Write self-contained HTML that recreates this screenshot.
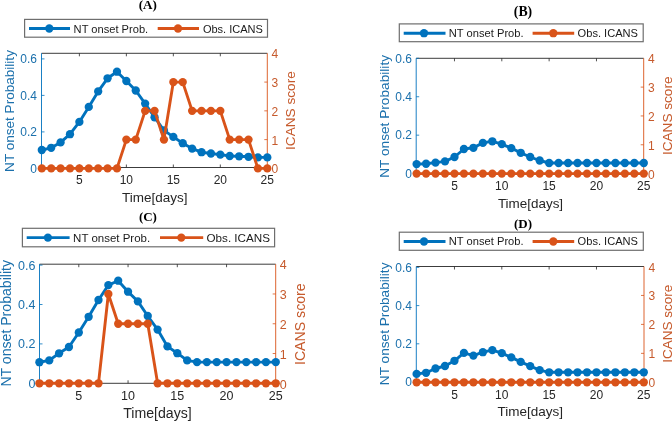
<!DOCTYPE html>
<html><head><meta charset="utf-8"><title>NT onset probability vs ICANS</title>
<style>
html,body{margin:0;padding:0;background:#fff;}
body{width:672px;height:422px;overflow:hidden;}
svg{display:block;will-change:transform;filter:blur(0.3px);font-family:"Liberation Sans",sans-serif;}
</style></head>
<body>
<svg width="672" height="422" viewBox="0 0 672 422">
<rect width="672" height="422" fill="#fff"/>
<text x="147.8" y="9.2" text-anchor="middle" font-family="Liberation Serif" font-weight="bold" font-size="13.1" fill="#000">(A)</text>
<rect x="24.6" y="19.4" width="242.9" height="17.8" fill="#fff" stroke="#6e6e6e" stroke-width="1.2"/>
<line x1="29" y1="28.5" x2="70" y2="28.5" stroke="#0072BD" stroke-width="2.9"/>
<circle cx="49.3" cy="28.5" r="4.15" fill="#0072BD"/>
<text x="73.6" y="32.7" font-size="11" fill="#1a1a1a" textLength="74.6" lengthAdjust="spacingAndGlyphs">NT onset Prob.</text>
<line x1="157.7" y1="28.5" x2="199" y2="28.5" stroke="#D95319" stroke-width="2.9"/>
<circle cx="178" cy="28.5" r="4.15" fill="#D95319"/>
<text x="202.9" y="32.7" font-size="11" fill="#1a1a1a" textLength="60" lengthAdjust="spacingAndGlyphs">Obs. ICANS</text>
<line x1="41.5" y1="53.3" x2="267.3" y2="53.3" stroke="#262626" stroke-width="0.9"/>
<line x1="41.5" y1="167.5" x2="267.3" y2="167.5" stroke="#262626" stroke-width="0.9"/>
<line x1="41.5" y1="53.3" x2="41.5" y2="168.4" stroke="#0072BD" stroke-width="0.9"/>
<line x1="267.3" y1="53.3" x2="267.3" y2="168.4" stroke="#D95319" stroke-width="0.9"/>
<line x1="79.38" y1="167.5" x2="79.38" y2="164.5" stroke="#262626" stroke-width="0.8"/>
<line x1="79.38" y1="53.3" x2="79.38" y2="56.3" stroke="#262626" stroke-width="0.8"/>
<text x="79.38" y="184" text-anchor="middle" font-size="12" fill="#262626">5</text>
<line x1="126.36" y1="167.5" x2="126.36" y2="164.5" stroke="#262626" stroke-width="0.8"/>
<line x1="126.36" y1="53.3" x2="126.36" y2="56.3" stroke="#262626" stroke-width="0.8"/>
<text x="126.36" y="184" text-anchor="middle" font-size="12" fill="#262626">10</text>
<line x1="173.34" y1="167.5" x2="173.34" y2="164.5" stroke="#262626" stroke-width="0.8"/>
<line x1="173.34" y1="53.3" x2="173.34" y2="56.3" stroke="#262626" stroke-width="0.8"/>
<text x="173.34" y="184" text-anchor="middle" font-size="12" fill="#262626">15</text>
<line x1="220.32" y1="167.5" x2="220.32" y2="164.5" stroke="#262626" stroke-width="0.8"/>
<line x1="220.32" y1="53.3" x2="220.32" y2="56.3" stroke="#262626" stroke-width="0.8"/>
<text x="220.32" y="184" text-anchor="middle" font-size="12" fill="#262626">20</text>
<text x="267.3" y="184" text-anchor="middle" font-size="12" fill="#262626">25</text>
<text x="37" y="172.72" text-anchor="end" font-size="12" fill="#1B70AC">0</text>
<line x1="41.5" y1="131.9" x2="44.5" y2="131.9" stroke="#0072BD" stroke-width="0.8"/>
<text x="37" y="136.22" text-anchor="end" font-size="12" fill="#1B70AC">0.2</text>
<line x1="41.5" y1="95.4" x2="44.5" y2="95.4" stroke="#0072BD" stroke-width="0.8"/>
<text x="37" y="99.72" text-anchor="end" font-size="12" fill="#1B70AC">0.4</text>
<line x1="41.5" y1="58.9" x2="44.5" y2="58.9" stroke="#0072BD" stroke-width="0.8"/>
<text x="37" y="63.22" text-anchor="end" font-size="12" fill="#1B70AC">0.6</text>
<text x="271.5" y="173.42" font-size="12" fill="#C65A2C">0</text>
<line x1="267.3" y1="139.62" x2="264.3" y2="139.62" stroke="#D95319" stroke-width="0.8"/>
<text x="271.5" y="144.64" font-size="12" fill="#C65A2C">1</text>
<line x1="267.3" y1="110.85" x2="264.3" y2="110.85" stroke="#D95319" stroke-width="0.8"/>
<text x="271.5" y="115.87" font-size="12" fill="#C65A2C">2</text>
<line x1="267.3" y1="82.08" x2="264.3" y2="82.08" stroke="#D95319" stroke-width="0.8"/>
<text x="271.5" y="87.1" font-size="12" fill="#C65A2C">3</text>
<text x="271.5" y="58.32" font-size="12" fill="#C65A2C">4</text>
<text x="154.7" y="201.7" text-anchor="middle" font-size="13.3" fill="#262626" textLength="65.4" lengthAdjust="spacingAndGlyphs">Time[days]</text>
<text transform="translate(13.9,111) rotate(-90)" text-anchor="middle" font-size="13.4" fill="#1B70AC" textLength="121.8" lengthAdjust="spacingAndGlyphs">NT onset Probability</text>
<text transform="translate(295.4,110.6) rotate(-90)" text-anchor="middle" font-size="13.4" fill="#C65A2C" textLength="78.8" lengthAdjust="spacingAndGlyphs">ICANS score</text>
<polyline points="41.8,150 51.2,147.8 60.59,142.4 69.99,134.2 79.38,121.9 88.78,106.9 98.17,91.4 107.57,78.3 116.97,71.7 126.36,81 135.76,90.5 145.15,103.6 154.55,117.3 163.95,130.4 173.34,136.9 182.74,143.2 192.13,148.6 201.53,152.2 210.93,153.5 220.32,154.6 229.72,156 239.11,156.3 248.51,156.8 257.9,157.4 267.3,157.4" fill="none" stroke="#0072BD" stroke-width="2.9" stroke-linejoin="round"/>
<circle cx="41.8" cy="150" r="4.15" fill="#0072BD"/>
<circle cx="51.2" cy="147.8" r="4.15" fill="#0072BD"/>
<circle cx="60.59" cy="142.4" r="4.15" fill="#0072BD"/>
<circle cx="69.99" cy="134.2" r="4.15" fill="#0072BD"/>
<circle cx="79.38" cy="121.9" r="4.15" fill="#0072BD"/>
<circle cx="88.78" cy="106.9" r="4.15" fill="#0072BD"/>
<circle cx="98.17" cy="91.4" r="4.15" fill="#0072BD"/>
<circle cx="107.57" cy="78.3" r="4.15" fill="#0072BD"/>
<circle cx="116.97" cy="71.7" r="4.15" fill="#0072BD"/>
<circle cx="126.36" cy="81" r="4.15" fill="#0072BD"/>
<circle cx="135.76" cy="90.5" r="4.15" fill="#0072BD"/>
<circle cx="145.15" cy="103.6" r="4.15" fill="#0072BD"/>
<circle cx="154.55" cy="117.3" r="4.15" fill="#0072BD"/>
<circle cx="163.95" cy="130.4" r="4.15" fill="#0072BD"/>
<circle cx="173.34" cy="136.9" r="4.15" fill="#0072BD"/>
<circle cx="182.74" cy="143.2" r="4.15" fill="#0072BD"/>
<circle cx="192.13" cy="148.6" r="4.15" fill="#0072BD"/>
<circle cx="201.53" cy="152.2" r="4.15" fill="#0072BD"/>
<circle cx="210.93" cy="153.5" r="4.15" fill="#0072BD"/>
<circle cx="220.32" cy="154.6" r="4.15" fill="#0072BD"/>
<circle cx="229.72" cy="156" r="4.15" fill="#0072BD"/>
<circle cx="239.11" cy="156.3" r="4.15" fill="#0072BD"/>
<circle cx="248.51" cy="156.8" r="4.15" fill="#0072BD"/>
<circle cx="257.9" cy="157.4" r="4.15" fill="#0072BD"/>
<circle cx="267.3" cy="157.4" r="4.15" fill="#0072BD"/>
<polyline points="41.8,168.4 51.2,168.4 60.59,168.4 69.99,168.4 79.38,168.4 88.78,168.4 98.17,168.4 107.57,168.4 116.97,168.4 126.36,139.62 135.76,139.62 145.15,110.85 154.55,110.85 163.95,139.62 173.34,82.08 182.74,82.08 192.13,110.85 201.53,110.85 210.93,110.85 220.32,110.85 229.72,139.62 239.11,139.62 248.51,139.62 257.9,168.4 267.3,168.4" fill="none" stroke="#D95319" stroke-width="2.9" stroke-linejoin="round"/>
<circle cx="41.8" cy="168.4" r="4.15" fill="#D95319"/>
<circle cx="51.2" cy="168.4" r="4.15" fill="#D95319"/>
<circle cx="60.59" cy="168.4" r="4.15" fill="#D95319"/>
<circle cx="69.99" cy="168.4" r="4.15" fill="#D95319"/>
<circle cx="79.38" cy="168.4" r="4.15" fill="#D95319"/>
<circle cx="88.78" cy="168.4" r="4.15" fill="#D95319"/>
<circle cx="98.17" cy="168.4" r="4.15" fill="#D95319"/>
<circle cx="107.57" cy="168.4" r="4.15" fill="#D95319"/>
<circle cx="116.97" cy="168.4" r="4.15" fill="#D95319"/>
<circle cx="126.36" cy="139.62" r="4.15" fill="#D95319"/>
<circle cx="135.76" cy="139.62" r="4.15" fill="#D95319"/>
<circle cx="145.15" cy="110.85" r="4.15" fill="#D95319"/>
<circle cx="154.55" cy="110.85" r="4.15" fill="#D95319"/>
<circle cx="163.95" cy="139.62" r="4.15" fill="#D95319"/>
<circle cx="173.34" cy="82.08" r="4.15" fill="#D95319"/>
<circle cx="182.74" cy="82.08" r="4.15" fill="#D95319"/>
<circle cx="192.13" cy="110.85" r="4.15" fill="#D95319"/>
<circle cx="201.53" cy="110.85" r="4.15" fill="#D95319"/>
<circle cx="210.93" cy="110.85" r="4.15" fill="#D95319"/>
<circle cx="220.32" cy="110.85" r="4.15" fill="#D95319"/>
<circle cx="229.72" cy="139.62" r="4.15" fill="#D95319"/>
<circle cx="239.11" cy="139.62" r="4.15" fill="#D95319"/>
<circle cx="248.51" cy="139.62" r="4.15" fill="#D95319"/>
<circle cx="257.9" cy="168.4" r="4.15" fill="#D95319"/>
<circle cx="267.3" cy="168.4" r="4.15" fill="#D95319"/>
<text x="523" y="16.4" text-anchor="middle" font-family="Liberation Serif" font-weight="bold" font-size="13.8" fill="#000">(B)</text>
<rect x="399.3" y="23.9" width="243.9" height="17.8" fill="#fff" stroke="#6e6e6e" stroke-width="1.2"/>
<line x1="403.7" y1="33.2" x2="445.5" y2="33.2" stroke="#0072BD" stroke-width="2.9"/>
<circle cx="424" cy="33.2" r="4.15" fill="#0072BD"/>
<text x="448.8" y="37.1" font-size="11.1" fill="#1a1a1a" textLength="74.8" lengthAdjust="spacingAndGlyphs">NT onset Prob.</text>
<line x1="532.6" y1="33.2" x2="574.2" y2="33.2" stroke="#D95319" stroke-width="2.9"/>
<circle cx="553.3" cy="33.2" r="4.15" fill="#D95319"/>
<text x="577.6" y="37.1" font-size="11.1" fill="#1a1a1a" textLength="60.4" lengthAdjust="spacingAndGlyphs">Obs. ICANS</text>
<line x1="416.2" y1="58.3" x2="643.7" y2="58.3" stroke="#262626" stroke-width="0.9"/>
<line x1="416.2" y1="173.6" x2="643.7" y2="173.6" stroke="#262626" stroke-width="0.9"/>
<line x1="416.2" y1="58.3" x2="416.2" y2="173.6" stroke="#0072BD" stroke-width="0.9"/>
<line x1="643.7" y1="58.3" x2="643.7" y2="173.6" stroke="#D95319" stroke-width="0.9"/>
<line x1="454.47" y1="173.6" x2="454.47" y2="170.6" stroke="#262626" stroke-width="0.8"/>
<line x1="454.47" y1="58.3" x2="454.47" y2="61.3" stroke="#262626" stroke-width="0.8"/>
<text x="454.47" y="189.9" text-anchor="middle" font-size="12" fill="#262626">5</text>
<line x1="501.8" y1="173.6" x2="501.8" y2="170.6" stroke="#262626" stroke-width="0.8"/>
<line x1="501.8" y1="58.3" x2="501.8" y2="61.3" stroke="#262626" stroke-width="0.8"/>
<text x="501.8" y="189.9" text-anchor="middle" font-size="12" fill="#262626">10</text>
<line x1="549.13" y1="173.6" x2="549.13" y2="170.6" stroke="#262626" stroke-width="0.8"/>
<line x1="549.13" y1="58.3" x2="549.13" y2="61.3" stroke="#262626" stroke-width="0.8"/>
<text x="549.13" y="189.9" text-anchor="middle" font-size="12" fill="#262626">15</text>
<line x1="596.47" y1="173.6" x2="596.47" y2="170.6" stroke="#262626" stroke-width="0.8"/>
<line x1="596.47" y1="58.3" x2="596.47" y2="61.3" stroke="#262626" stroke-width="0.8"/>
<text x="596.47" y="189.9" text-anchor="middle" font-size="12" fill="#262626">20</text>
<text x="643.8" y="189.9" text-anchor="middle" font-size="12" fill="#262626">25</text>
<text x="412" y="177.92" text-anchor="end" font-size="12" fill="#1B70AC">0</text>
<line x1="416.2" y1="135.17" x2="419.2" y2="135.17" stroke="#0072BD" stroke-width="0.8"/>
<text x="412" y="139.49" text-anchor="end" font-size="12" fill="#1B70AC">0.2</text>
<line x1="416.2" y1="96.74" x2="419.2" y2="96.74" stroke="#0072BD" stroke-width="0.8"/>
<text x="412" y="101.06" text-anchor="end" font-size="12" fill="#1B70AC">0.4</text>
<line x1="416.2" y1="58.31" x2="419.2" y2="58.31" stroke="#0072BD" stroke-width="0.8"/>
<text x="412" y="62.63" text-anchor="end" font-size="12" fill="#1B70AC">0.6</text>
<text x="648" y="178.62" font-size="12" fill="#C65A2C">0</text>
<line x1="643.7" y1="144.78" x2="640.7" y2="144.78" stroke="#D95319" stroke-width="0.8"/>
<text x="648" y="149.79" font-size="12" fill="#C65A2C">1</text>
<line x1="643.7" y1="115.95" x2="640.7" y2="115.95" stroke="#D95319" stroke-width="0.8"/>
<text x="648" y="120.97" font-size="12" fill="#C65A2C">2</text>
<line x1="643.7" y1="87.12" x2="640.7" y2="87.12" stroke="#D95319" stroke-width="0.8"/>
<text x="648" y="92.14" font-size="12" fill="#C65A2C">3</text>
<text x="648" y="63.32" font-size="12" fill="#C65A2C">4</text>
<text x="530.5" y="207.6" text-anchor="middle" font-size="13.4" fill="#262626" textLength="65.2" lengthAdjust="spacingAndGlyphs">Time[days]</text>
<text transform="translate(389,116.4) rotate(-90)" text-anchor="middle" font-size="13.5" fill="#1B70AC" textLength="122.8" lengthAdjust="spacingAndGlyphs">NT onset Probability</text>
<text transform="translate(672,115.8) rotate(-90)" text-anchor="middle" font-size="13.5" fill="#C65A2C" textLength="78.6" lengthAdjust="spacingAndGlyphs">ICANS score</text>
<polyline points="416.6,164.1 426.07,163.75 435.53,162.6 445,161.4 454.47,157 463.93,149 473.4,147.8 482.87,142.9 492.33,141.3 501.8,144.1 511.27,148.1 520.73,152.8 530.2,157 539.67,160.5 549.13,163 558.6,163 568.07,163 577.53,163 587,163 596.47,163 605.93,163 615.4,163 624.87,163 634.33,163 643.8,163" fill="none" stroke="#0072BD" stroke-width="2.9" stroke-linejoin="round"/>
<circle cx="416.6" cy="164.1" r="4.15" fill="#0072BD"/>
<circle cx="426.07" cy="163.75" r="4.15" fill="#0072BD"/>
<circle cx="435.53" cy="162.6" r="4.15" fill="#0072BD"/>
<circle cx="445" cy="161.4" r="4.15" fill="#0072BD"/>
<circle cx="454.47" cy="157" r="4.15" fill="#0072BD"/>
<circle cx="463.93" cy="149" r="4.15" fill="#0072BD"/>
<circle cx="473.4" cy="147.8" r="4.15" fill="#0072BD"/>
<circle cx="482.87" cy="142.9" r="4.15" fill="#0072BD"/>
<circle cx="492.33" cy="141.3" r="4.15" fill="#0072BD"/>
<circle cx="501.8" cy="144.1" r="4.15" fill="#0072BD"/>
<circle cx="511.27" cy="148.1" r="4.15" fill="#0072BD"/>
<circle cx="520.73" cy="152.8" r="4.15" fill="#0072BD"/>
<circle cx="530.2" cy="157" r="4.15" fill="#0072BD"/>
<circle cx="539.67" cy="160.5" r="4.15" fill="#0072BD"/>
<circle cx="549.13" cy="163" r="4.15" fill="#0072BD"/>
<circle cx="558.6" cy="163" r="4.15" fill="#0072BD"/>
<circle cx="568.07" cy="163" r="4.15" fill="#0072BD"/>
<circle cx="577.53" cy="163" r="4.15" fill="#0072BD"/>
<circle cx="587" cy="163" r="4.15" fill="#0072BD"/>
<circle cx="596.47" cy="163" r="4.15" fill="#0072BD"/>
<circle cx="605.93" cy="163" r="4.15" fill="#0072BD"/>
<circle cx="615.4" cy="163" r="4.15" fill="#0072BD"/>
<circle cx="624.87" cy="163" r="4.15" fill="#0072BD"/>
<circle cx="634.33" cy="163" r="4.15" fill="#0072BD"/>
<circle cx="643.8" cy="163" r="4.15" fill="#0072BD"/>
<polyline points="416.6,173.6 426.07,173.6 435.53,173.6 445,173.6 454.47,173.6 463.93,173.6 473.4,173.6 482.87,173.6 492.33,173.6 501.8,173.6 511.27,173.6 520.73,173.6 530.2,173.6 539.67,173.6 549.13,173.6 558.6,173.6 568.07,173.6 577.53,173.6 587,173.6 596.47,173.6 605.93,173.6 615.4,173.6 624.87,173.6 634.33,173.6 643.8,173.6" fill="none" stroke="#D95319" stroke-width="2.9" stroke-linejoin="round"/>
<circle cx="416.6" cy="173.6" r="4.15" fill="#D95319"/>
<circle cx="426.07" cy="173.6" r="4.15" fill="#D95319"/>
<circle cx="435.53" cy="173.6" r="4.15" fill="#D95319"/>
<circle cx="445" cy="173.6" r="4.15" fill="#D95319"/>
<circle cx="454.47" cy="173.6" r="4.15" fill="#D95319"/>
<circle cx="463.93" cy="173.6" r="4.15" fill="#D95319"/>
<circle cx="473.4" cy="173.6" r="4.15" fill="#D95319"/>
<circle cx="482.87" cy="173.6" r="4.15" fill="#D95319"/>
<circle cx="492.33" cy="173.6" r="4.15" fill="#D95319"/>
<circle cx="501.8" cy="173.6" r="4.15" fill="#D95319"/>
<circle cx="511.27" cy="173.6" r="4.15" fill="#D95319"/>
<circle cx="520.73" cy="173.6" r="4.15" fill="#D95319"/>
<circle cx="530.2" cy="173.6" r="4.15" fill="#D95319"/>
<circle cx="539.67" cy="173.6" r="4.15" fill="#D95319"/>
<circle cx="549.13" cy="173.6" r="4.15" fill="#D95319"/>
<circle cx="558.6" cy="173.6" r="4.15" fill="#D95319"/>
<circle cx="568.07" cy="173.6" r="4.15" fill="#D95319"/>
<circle cx="577.53" cy="173.6" r="4.15" fill="#D95319"/>
<circle cx="587" cy="173.6" r="4.15" fill="#D95319"/>
<circle cx="596.47" cy="173.6" r="4.15" fill="#D95319"/>
<circle cx="605.93" cy="173.6" r="4.15" fill="#D95319"/>
<circle cx="615.4" cy="173.6" r="4.15" fill="#D95319"/>
<circle cx="624.87" cy="173.6" r="4.15" fill="#D95319"/>
<circle cx="634.33" cy="173.6" r="4.15" fill="#D95319"/>
<circle cx="643.8" cy="173.6" r="4.15" fill="#D95319"/>
<text x="147.9" y="221.4" text-anchor="middle" font-family="Liberation Serif" font-weight="bold" font-size="13" fill="#000">(C)</text>
<rect x="22.4" y="228.3" width="252.2" height="18.5" fill="#fff" stroke="#6e6e6e" stroke-width="1.2"/>
<line x1="26.7" y1="237.6" x2="69.6" y2="237.6" stroke="#0072BD" stroke-width="2.9"/>
<circle cx="47.9" cy="237.6" r="4.15" fill="#0072BD"/>
<text x="73.1" y="242" font-size="11.5" fill="#1a1a1a" textLength="77" lengthAdjust="spacingAndGlyphs">NT onset Prob.</text>
<line x1="160" y1="237.6" x2="203.2" y2="237.6" stroke="#D95319" stroke-width="2.9"/>
<circle cx="181.3" cy="237.6" r="4.15" fill="#D95319"/>
<text x="206.5" y="242" font-size="11.5" fill="#1a1a1a" textLength="63.5" lengthAdjust="spacingAndGlyphs">Obs. ICANS</text>
<line x1="39.5" y1="264.2" x2="275.7" y2="264.2" stroke="#262626" stroke-width="0.9"/>
<line x1="39.5" y1="383.3" x2="275.7" y2="383.3" stroke="#262626" stroke-width="0.9"/>
<line x1="39.5" y1="264.2" x2="39.5" y2="383.3" stroke="#0072BD" stroke-width="0.9"/>
<line x1="275.7" y1="264.2" x2="275.7" y2="383.3" stroke="#D95319" stroke-width="0.9"/>
<line x1="78.8" y1="383.3" x2="78.8" y2="380.3" stroke="#262626" stroke-width="0.8"/>
<line x1="78.8" y1="264.2" x2="78.8" y2="267.2" stroke="#262626" stroke-width="0.8"/>
<text x="78.8" y="399.6" text-anchor="middle" font-size="12.5" fill="#262626">5</text>
<line x1="128.05" y1="383.3" x2="128.05" y2="380.3" stroke="#262626" stroke-width="0.8"/>
<line x1="128.05" y1="264.2" x2="128.05" y2="267.2" stroke="#262626" stroke-width="0.8"/>
<text x="128.05" y="399.6" text-anchor="middle" font-size="12.5" fill="#262626">10</text>
<line x1="177.3" y1="383.3" x2="177.3" y2="380.3" stroke="#262626" stroke-width="0.8"/>
<line x1="177.3" y1="264.2" x2="177.3" y2="267.2" stroke="#262626" stroke-width="0.8"/>
<text x="177.3" y="399.6" text-anchor="middle" font-size="12.5" fill="#262626">15</text>
<line x1="226.55" y1="383.3" x2="226.55" y2="380.3" stroke="#262626" stroke-width="0.8"/>
<line x1="226.55" y1="264.2" x2="226.55" y2="267.2" stroke="#262626" stroke-width="0.8"/>
<text x="226.55" y="399.6" text-anchor="middle" font-size="12.5" fill="#262626">20</text>
<text x="275.8" y="399.6" text-anchor="middle" font-size="12.5" fill="#262626">25</text>
<text x="35.5" y="387.8" text-anchor="end" font-size="12.5" fill="#1B70AC">0</text>
<line x1="39.5" y1="343.9" x2="42.5" y2="343.9" stroke="#0072BD" stroke-width="0.8"/>
<text x="35.5" y="348.4" text-anchor="end" font-size="12.5" fill="#1B70AC">0.2</text>
<line x1="39.5" y1="304.5" x2="42.5" y2="304.5" stroke="#0072BD" stroke-width="0.8"/>
<text x="35.5" y="309" text-anchor="end" font-size="12.5" fill="#1B70AC">0.4</text>
<line x1="39.5" y1="265.1" x2="42.5" y2="265.1" stroke="#0072BD" stroke-width="0.8"/>
<text x="35.5" y="269.6" text-anchor="end" font-size="12.5" fill="#1B70AC">0.6</text>
<text x="279.7" y="388.5" font-size="12.5" fill="#C65A2C">0</text>
<line x1="275.7" y1="353.52" x2="272.7" y2="353.52" stroke="#D95319" stroke-width="0.8"/>
<text x="279.7" y="358.72" font-size="12.5" fill="#C65A2C">1</text>
<line x1="275.7" y1="323.75" x2="272.7" y2="323.75" stroke="#D95319" stroke-width="0.8"/>
<text x="279.7" y="328.95" font-size="12.5" fill="#C65A2C">2</text>
<line x1="275.7" y1="293.98" x2="272.7" y2="293.98" stroke="#D95319" stroke-width="0.8"/>
<text x="279.7" y="299.18" font-size="12.5" fill="#C65A2C">3</text>
<text x="279.7" y="269.4" font-size="12.5" fill="#C65A2C">4</text>
<text x="157.5" y="417.8" text-anchor="middle" font-size="14" fill="#262626" textLength="68.6" lengthAdjust="spacingAndGlyphs">Time[days]</text>
<text transform="translate(11.2,323.3) rotate(-90)" text-anchor="middle" font-size="14" fill="#1B70AC" textLength="126.6" lengthAdjust="spacingAndGlyphs">NT onset Probability</text>
<text transform="translate(305,324.2) rotate(-90)" text-anchor="middle" font-size="14" fill="#C65A2C" textLength="81.6" lengthAdjust="spacingAndGlyphs">ICANS score</text>
<polyline points="39.4,362.2 49.25,360.4 59.1,353.3 68.95,347 78.8,332.5 88.65,316.8 98.5,300 108.35,285.1 118.2,280.7 128.05,291.7 137.9,301.4 147.75,316 157.6,329.6 167.45,346.4 177.3,353.2 187.15,360.4 197,362.1 206.85,362.1 216.7,362.1 226.55,362.1 236.4,362.1 246.25,362.1 256.1,362.1 265.95,362.1 275.8,362.1" fill="none" stroke="#0072BD" stroke-width="2.9" stroke-linejoin="round"/>
<circle cx="39.4" cy="362.2" r="4.15" fill="#0072BD"/>
<circle cx="49.25" cy="360.4" r="4.15" fill="#0072BD"/>
<circle cx="59.1" cy="353.3" r="4.15" fill="#0072BD"/>
<circle cx="68.95" cy="347" r="4.15" fill="#0072BD"/>
<circle cx="78.8" cy="332.5" r="4.15" fill="#0072BD"/>
<circle cx="88.65" cy="316.8" r="4.15" fill="#0072BD"/>
<circle cx="98.5" cy="300" r="4.15" fill="#0072BD"/>
<circle cx="108.35" cy="285.1" r="4.15" fill="#0072BD"/>
<circle cx="118.2" cy="280.7" r="4.15" fill="#0072BD"/>
<circle cx="128.05" cy="291.7" r="4.15" fill="#0072BD"/>
<circle cx="137.9" cy="301.4" r="4.15" fill="#0072BD"/>
<circle cx="147.75" cy="316" r="4.15" fill="#0072BD"/>
<circle cx="157.6" cy="329.6" r="4.15" fill="#0072BD"/>
<circle cx="167.45" cy="346.4" r="4.15" fill="#0072BD"/>
<circle cx="177.3" cy="353.2" r="4.15" fill="#0072BD"/>
<circle cx="187.15" cy="360.4" r="4.15" fill="#0072BD"/>
<circle cx="197" cy="362.1" r="4.15" fill="#0072BD"/>
<circle cx="206.85" cy="362.1" r="4.15" fill="#0072BD"/>
<circle cx="216.7" cy="362.1" r="4.15" fill="#0072BD"/>
<circle cx="226.55" cy="362.1" r="4.15" fill="#0072BD"/>
<circle cx="236.4" cy="362.1" r="4.15" fill="#0072BD"/>
<circle cx="246.25" cy="362.1" r="4.15" fill="#0072BD"/>
<circle cx="256.1" cy="362.1" r="4.15" fill="#0072BD"/>
<circle cx="265.95" cy="362.1" r="4.15" fill="#0072BD"/>
<circle cx="275.8" cy="362.1" r="4.15" fill="#0072BD"/>
<polyline points="39.4,383.3 49.25,383.3 59.1,383.3 68.95,383.3 78.8,383.3 88.65,383.3 98.5,383.3 108.35,293.98 118.2,323.75 128.05,323.75 137.9,323.75 147.75,323.75 157.6,383.3 167.45,383.3 177.3,383.3 187.15,383.3 197,383.3 206.85,383.3 216.7,383.3 226.55,383.3 236.4,383.3 246.25,383.3 256.1,383.3 265.95,383.3 275.8,383.3" fill="none" stroke="#D95319" stroke-width="2.9" stroke-linejoin="round"/>
<circle cx="39.4" cy="383.3" r="4.15" fill="#D95319"/>
<circle cx="49.25" cy="383.3" r="4.15" fill="#D95319"/>
<circle cx="59.1" cy="383.3" r="4.15" fill="#D95319"/>
<circle cx="68.95" cy="383.3" r="4.15" fill="#D95319"/>
<circle cx="78.8" cy="383.3" r="4.15" fill="#D95319"/>
<circle cx="88.65" cy="383.3" r="4.15" fill="#D95319"/>
<circle cx="98.5" cy="383.3" r="4.15" fill="#D95319"/>
<circle cx="108.35" cy="293.98" r="4.15" fill="#D95319"/>
<circle cx="118.2" cy="323.75" r="4.15" fill="#D95319"/>
<circle cx="128.05" cy="323.75" r="4.15" fill="#D95319"/>
<circle cx="137.9" cy="323.75" r="4.15" fill="#D95319"/>
<circle cx="147.75" cy="323.75" r="4.15" fill="#D95319"/>
<circle cx="157.6" cy="383.3" r="4.15" fill="#D95319"/>
<circle cx="167.45" cy="383.3" r="4.15" fill="#D95319"/>
<circle cx="177.3" cy="383.3" r="4.15" fill="#D95319"/>
<circle cx="187.15" cy="383.3" r="4.15" fill="#D95319"/>
<circle cx="197" cy="383.3" r="4.15" fill="#D95319"/>
<circle cx="206.85" cy="383.3" r="4.15" fill="#D95319"/>
<circle cx="216.7" cy="383.3" r="4.15" fill="#D95319"/>
<circle cx="226.55" cy="383.3" r="4.15" fill="#D95319"/>
<circle cx="236.4" cy="383.3" r="4.15" fill="#D95319"/>
<circle cx="246.25" cy="383.3" r="4.15" fill="#D95319"/>
<circle cx="256.1" cy="383.3" r="4.15" fill="#D95319"/>
<circle cx="265.95" cy="383.3" r="4.15" fill="#D95319"/>
<circle cx="275.8" cy="383.3" r="4.15" fill="#D95319"/>
<text x="523" y="227.7" text-anchor="middle" font-family="Liberation Serif" font-weight="bold" font-size="13" fill="#000">(D)</text>
<rect x="399.3" y="232.2" width="244" height="18.1" fill="#fff" stroke="#6e6e6e" stroke-width="1.2"/>
<line x1="403.7" y1="241.5" x2="445.5" y2="241.5" stroke="#0072BD" stroke-width="2.9"/>
<circle cx="424" cy="241.5" r="4.15" fill="#0072BD"/>
<text x="448.8" y="245.4" font-size="11.1" fill="#1a1a1a" textLength="74.8" lengthAdjust="spacingAndGlyphs">NT onset Prob.</text>
<line x1="532.6" y1="241.5" x2="574.2" y2="241.5" stroke="#D95319" stroke-width="2.9"/>
<circle cx="553.3" cy="241.5" r="4.15" fill="#D95319"/>
<text x="577.6" y="245.4" font-size="11.1" fill="#1a1a1a" textLength="60.4" lengthAdjust="spacingAndGlyphs">Obs. ICANS</text>
<line x1="416.3" y1="266.5" x2="644" y2="266.5" stroke="#262626" stroke-width="0.9"/>
<line x1="416.3" y1="382" x2="644" y2="382" stroke="#262626" stroke-width="0.9"/>
<line x1="416.3" y1="266.5" x2="416.3" y2="382" stroke="#0072BD" stroke-width="0.9"/>
<line x1="644" y1="266.5" x2="644" y2="382" stroke="#D95319" stroke-width="0.9"/>
<line x1="454.47" y1="382" x2="454.47" y2="379" stroke="#262626" stroke-width="0.8"/>
<line x1="454.47" y1="266.5" x2="454.47" y2="269.5" stroke="#262626" stroke-width="0.8"/>
<text x="454.47" y="398.5" text-anchor="middle" font-size="12" fill="#262626">5</text>
<line x1="501.8" y1="382" x2="501.8" y2="379" stroke="#262626" stroke-width="0.8"/>
<line x1="501.8" y1="266.5" x2="501.8" y2="269.5" stroke="#262626" stroke-width="0.8"/>
<text x="501.8" y="398.5" text-anchor="middle" font-size="12" fill="#262626">10</text>
<line x1="549.13" y1="382" x2="549.13" y2="379" stroke="#262626" stroke-width="0.8"/>
<line x1="549.13" y1="266.5" x2="549.13" y2="269.5" stroke="#262626" stroke-width="0.8"/>
<text x="549.13" y="398.5" text-anchor="middle" font-size="12" fill="#262626">15</text>
<line x1="596.47" y1="382" x2="596.47" y2="379" stroke="#262626" stroke-width="0.8"/>
<line x1="596.47" y1="266.5" x2="596.47" y2="269.5" stroke="#262626" stroke-width="0.8"/>
<text x="596.47" y="398.5" text-anchor="middle" font-size="12" fill="#262626">20</text>
<text x="643.8" y="398.5" text-anchor="middle" font-size="12" fill="#262626">25</text>
<text x="412" y="386.32" text-anchor="end" font-size="12" fill="#1B70AC">0</text>
<line x1="416.3" y1="343.8" x2="419.3" y2="343.8" stroke="#0072BD" stroke-width="0.8"/>
<text x="412" y="348.12" text-anchor="end" font-size="12" fill="#1B70AC">0.2</text>
<line x1="416.3" y1="305.6" x2="419.3" y2="305.6" stroke="#0072BD" stroke-width="0.8"/>
<text x="412" y="309.92" text-anchor="end" font-size="12" fill="#1B70AC">0.4</text>
<line x1="416.3" y1="267.4" x2="419.3" y2="267.4" stroke="#0072BD" stroke-width="0.8"/>
<text x="412" y="271.72" text-anchor="end" font-size="12" fill="#1B70AC">0.6</text>
<text x="648.5" y="387.32" font-size="12" fill="#C65A2C">0</text>
<line x1="644" y1="353.35" x2="641" y2="353.35" stroke="#D95319" stroke-width="0.8"/>
<text x="648.5" y="358.37" font-size="12" fill="#C65A2C">1</text>
<line x1="644" y1="324.4" x2="641" y2="324.4" stroke="#D95319" stroke-width="0.8"/>
<text x="648.5" y="329.42" font-size="12" fill="#C65A2C">2</text>
<line x1="644" y1="295.45" x2="641" y2="295.45" stroke="#D95319" stroke-width="0.8"/>
<text x="648.5" y="300.47" font-size="12" fill="#C65A2C">3</text>
<text x="648.5" y="271.52" font-size="12" fill="#C65A2C">4</text>
<text x="530.3" y="416" text-anchor="middle" font-size="13.4" fill="#262626" textLength="65.5" lengthAdjust="spacingAndGlyphs">Time[days]</text>
<text transform="translate(389,323.85) rotate(-90)" text-anchor="middle" font-size="13.5" fill="#1B70AC" textLength="122.6" lengthAdjust="spacingAndGlyphs">NT onset Probability</text>
<text transform="translate(671.8,323.8) rotate(-90)" text-anchor="middle" font-size="13.5" fill="#C65A2C" textLength="78" lengthAdjust="spacingAndGlyphs">ICANS score</text>
<polyline points="416.6,373.9 426.07,372.8 435.53,368.5 445,366 454.47,360.8 463.93,352.9 473.4,355.6 482.87,352.2 492.33,350.1 501.8,353.1 511.27,357.4 520.73,361.9 530.2,366.1 539.67,370.1 549.13,372.3 558.6,372.3 568.07,372.3 577.53,372.3 587,372.3 596.47,372.3 605.93,372.3 615.4,372.3 624.87,372.3 634.33,372.3 643.8,372.3" fill="none" stroke="#0072BD" stroke-width="2.9" stroke-linejoin="round"/>
<circle cx="416.6" cy="373.9" r="4.15" fill="#0072BD"/>
<circle cx="426.07" cy="372.8" r="4.15" fill="#0072BD"/>
<circle cx="435.53" cy="368.5" r="4.15" fill="#0072BD"/>
<circle cx="445" cy="366" r="4.15" fill="#0072BD"/>
<circle cx="454.47" cy="360.8" r="4.15" fill="#0072BD"/>
<circle cx="463.93" cy="352.9" r="4.15" fill="#0072BD"/>
<circle cx="473.4" cy="355.6" r="4.15" fill="#0072BD"/>
<circle cx="482.87" cy="352.2" r="4.15" fill="#0072BD"/>
<circle cx="492.33" cy="350.1" r="4.15" fill="#0072BD"/>
<circle cx="501.8" cy="353.1" r="4.15" fill="#0072BD"/>
<circle cx="511.27" cy="357.4" r="4.15" fill="#0072BD"/>
<circle cx="520.73" cy="361.9" r="4.15" fill="#0072BD"/>
<circle cx="530.2" cy="366.1" r="4.15" fill="#0072BD"/>
<circle cx="539.67" cy="370.1" r="4.15" fill="#0072BD"/>
<circle cx="549.13" cy="372.3" r="4.15" fill="#0072BD"/>
<circle cx="558.6" cy="372.3" r="4.15" fill="#0072BD"/>
<circle cx="568.07" cy="372.3" r="4.15" fill="#0072BD"/>
<circle cx="577.53" cy="372.3" r="4.15" fill="#0072BD"/>
<circle cx="587" cy="372.3" r="4.15" fill="#0072BD"/>
<circle cx="596.47" cy="372.3" r="4.15" fill="#0072BD"/>
<circle cx="605.93" cy="372.3" r="4.15" fill="#0072BD"/>
<circle cx="615.4" cy="372.3" r="4.15" fill="#0072BD"/>
<circle cx="624.87" cy="372.3" r="4.15" fill="#0072BD"/>
<circle cx="634.33" cy="372.3" r="4.15" fill="#0072BD"/>
<circle cx="643.8" cy="372.3" r="4.15" fill="#0072BD"/>
<polyline points="416.6,382.3 426.07,382.3 435.53,382.3 445,382.3 454.47,382.3 463.93,382.3 473.4,382.3 482.87,382.3 492.33,382.3 501.8,382.3 511.27,382.3 520.73,382.3 530.2,382.3 539.67,382.3 549.13,382.3 558.6,382.3 568.07,382.3 577.53,382.3 587,382.3 596.47,382.3 605.93,382.3 615.4,382.3 624.87,382.3 634.33,382.3 643.8,382.3" fill="none" stroke="#D95319" stroke-width="2.9" stroke-linejoin="round"/>
<circle cx="416.6" cy="382.3" r="4.15" fill="#D95319"/>
<circle cx="426.07" cy="382.3" r="4.15" fill="#D95319"/>
<circle cx="435.53" cy="382.3" r="4.15" fill="#D95319"/>
<circle cx="445" cy="382.3" r="4.15" fill="#D95319"/>
<circle cx="454.47" cy="382.3" r="4.15" fill="#D95319"/>
<circle cx="463.93" cy="382.3" r="4.15" fill="#D95319"/>
<circle cx="473.4" cy="382.3" r="4.15" fill="#D95319"/>
<circle cx="482.87" cy="382.3" r="4.15" fill="#D95319"/>
<circle cx="492.33" cy="382.3" r="4.15" fill="#D95319"/>
<circle cx="501.8" cy="382.3" r="4.15" fill="#D95319"/>
<circle cx="511.27" cy="382.3" r="4.15" fill="#D95319"/>
<circle cx="520.73" cy="382.3" r="4.15" fill="#D95319"/>
<circle cx="530.2" cy="382.3" r="4.15" fill="#D95319"/>
<circle cx="539.67" cy="382.3" r="4.15" fill="#D95319"/>
<circle cx="549.13" cy="382.3" r="4.15" fill="#D95319"/>
<circle cx="558.6" cy="382.3" r="4.15" fill="#D95319"/>
<circle cx="568.07" cy="382.3" r="4.15" fill="#D95319"/>
<circle cx="577.53" cy="382.3" r="4.15" fill="#D95319"/>
<circle cx="587" cy="382.3" r="4.15" fill="#D95319"/>
<circle cx="596.47" cy="382.3" r="4.15" fill="#D95319"/>
<circle cx="605.93" cy="382.3" r="4.15" fill="#D95319"/>
<circle cx="615.4" cy="382.3" r="4.15" fill="#D95319"/>
<circle cx="624.87" cy="382.3" r="4.15" fill="#D95319"/>
<circle cx="634.33" cy="382.3" r="4.15" fill="#D95319"/>
<circle cx="643.8" cy="382.3" r="4.15" fill="#D95319"/>
</svg>
</body></html>
